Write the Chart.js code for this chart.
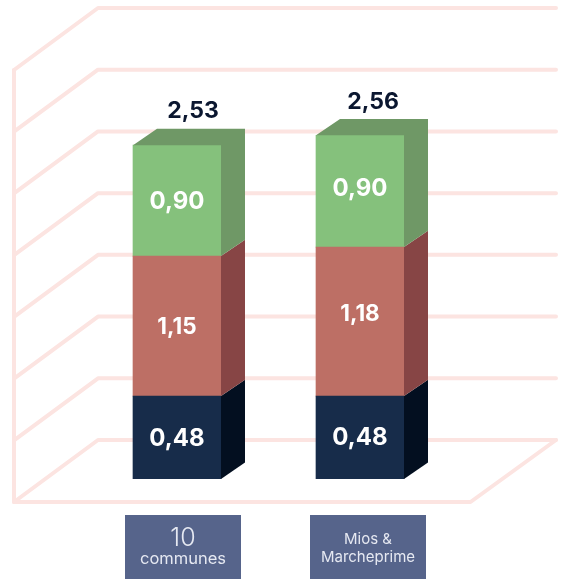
<!DOCTYPE html>
<html lang="fr">
<head>
    <meta charset="UTF-8">
    <title>Comparaison</title>
    <script src="https://cdn.jsdelivr.net/npm/chart.js"></script>
    <style>
        body{
            margin: 0;
            background-color: white;
        }
        canvas{
            display: block;
        }
    </style>
</head>
<body>
<canvas id="chart" width="568" height="580"></canvas>

<script>
    const categories = [['10', 'communes'], ['Mios &', 'Marcheprime']];

    // printed on the bars
    const navyLabels = ['0,48', '0,48'];
    const redLabels = ['1,15', '1,18'];
    const greenLabels = ['0,90', '0,90'];
    const totalLabels = ['2,53', '2,56'];

    // heights as drawn in the picture, in axis units. the source is not
    // to scale (navy is drawn taller than its 0,48), so these differ a bit
    const navyHeights = [0.672, 0.672];
    const redHeights = [1.134, 1.207];
    const greenHeights = [0.899, 0.905];

    const FONT = 'Inter, sans-serif';
    const GRID = '#fce4e1';
    const DX = 24, DY = 16.4;

    // the pink 3d frame, hung on the y scale
    const framePlugin = {
        id: 'frame',
        beforeDatasetsDraw(chart) {
            const ctx = chart.ctx;
            const y = chart.scales.y;
            const wallX = 14, backX = 98, endX = 556;
            const frontDrop = 23, backRise = 39;
            ctx.save();
            ctx.strokeStyle = GRID;
            ctx.lineWidth = 4;
            ctx.lineJoin = 'round';
            ctx.lineCap = 'round';
            y.ticks.forEach(t => {
                const py = y.getPixelForValue(t.value);
                ctx.beginPath();
                ctx.moveTo(wallX, py + frontDrop);
                ctx.lineTo(backX, py - backRise);
                ctx.lineTo(endX, py - backRise);
                ctx.stroke();
            });
            const floor = y.getPixelForValue(0);
            const top = y.getPixelForValue(y.max);
            ctx.beginPath();
            ctx.moveTo(wallX, top + frontDrop);
            ctx.lineTo(wallX, floor + frontDrop);
            ctx.lineTo(470.5, floor + frontDrop);
            ctx.lineTo(endX, floor - backRise);
            ctx.stroke();
            ctx.restore();
        }
    };

    function face(ctx, pts, color) {
        ctx.fillStyle = color;
        ctx.beginPath();
        pts.forEach((p, i) => i ? ctx.lineTo(p[0], p[1]) : ctx.moveTo(p[0], p[1]));
        ctx.closePath();
        ctx.fill();
    }

    // side + top faces of the blocks, then all the text
    const blockPlugin = {
        id: 'block',
        afterDatasetsDraw(chart) {
            const ctx = chart.ctx;
            const sides = ['#030f20', '#874545', '#6f9866'];
            const printed = [navyLabels, redLabels, greenLabels];
            const nudge = [[1, 0], [1, -7], [1.5, -2]];
            ctx.save();
            ctx.textAlign = 'center';
            ctx.textBaseline = 'middle';

            chart.data.datasets.forEach((ds, d) => {
                chart.getDatasetMeta(d).data.forEach((bar, i) => {
                    const r = bar.x + bar.width / 2;
                    const l = bar.x - bar.width / 2;
                    if (d === 2) {
                        // top and side as one shape so no seam shows
                        face(ctx, [[l, bar.y], [l + DX, bar.y - DY], [r + DX, bar.y - DY], [r + DX, bar.base - DY], [r, bar.base], [r, bar.y]], sides[d]);
                    } else {
                        face(ctx, [[r, bar.y], [r + DX, bar.y - DY], [r + DX, bar.base - DY], [r, bar.base]], sides[d]);
                    }
                    ctx.fillStyle = 'white';
                    ctx.font = (d === 1 ? '700 22.5px ' : '700 24px ') + FONT;
                    ctx.fillText(printed[d][i], bar.x, (bar.y + bar.base) / 2 + nudge[d][i]);
                });
            });

            // totals above the top block
            const totalDx = [16, 13];
            const totalDy = [34.5, 33];
            chart.getDatasetMeta(2).data.forEach((bar, i) => {
                ctx.fillStyle = '#0b1730';
                ctx.font = '700 23px ' + FONT;
                ctx.fillText(totalLabels[i], bar.x + totalDx[i], bar.y - totalDy[i]);
            });

            // category boxes
            const x = chart.scales.x;
            const boxDx = [6, 8];
            categories.forEach((lines, i) => {
                const cx = x.getPixelForValue(i) + boxDx[i];
                ctx.fillStyle = '#56648b';
                ctx.fillRect(cx - 58, 515, 116, 64);
                ctx.fillStyle = '#e6e9f2';
                if (i === 0) {
                    ctx.font = '300 25px ' + FONT;
                    ctx.fillText(lines[0], cx, 538);
                    ctx.font = '400 16.5px ' + FONT;
                    ctx.fillText(lines[1], cx, 559);
                } else {
                    ctx.font = '400 15px ' + FONT;
                    ctx.fillText(lines[0], cx, 539);
                    ctx.fillText(lines[1], cx, 557);
                }
            });
            ctx.restore();
        }
    };

    new Chart(document.getElementById('chart').getContext('2d'), {
        type: 'bar',
        data: {
            labels: categories.map(c => c.join(' ')),
            datasets: [
                { data: navyHeights, backgroundColor: '#172c4a' },
                { data: redHeights, backgroundColor: '#bd6f65' },
                { data: greenHeights, backgroundColor: '#85c17c' }
            ]
        },
        options: {
            responsive: false,
            animation: false,
            barThickness: 88,
            layout: { padding: { left: 85.5, right: 116.5, top: 47, bottom: 101 } },
            plugins: { legend: { display: false }, tooltip: { enabled: false } },
            scales: {
                x: { stacked: true, display: false },
                y: { stacked: true, display: false, min: 0, max: 3.5, ticks: { stepSize: 0.5 } }
            }
        },
        plugins: [framePlugin, blockPlugin]
    });
</script>
</body>
</html>
